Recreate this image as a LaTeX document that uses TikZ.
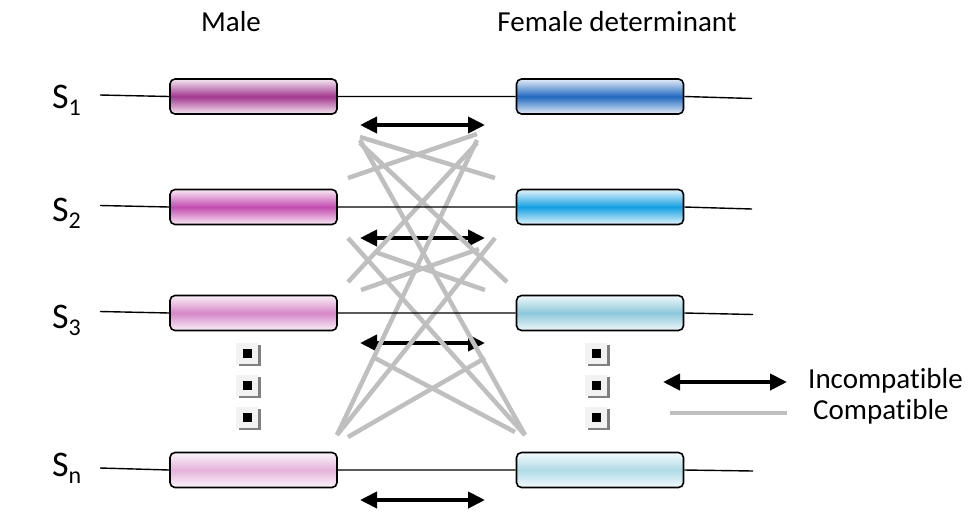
\documentclass[tikz,border=0pt]{standalone}
\usepackage{fontspec}
\setmainfont[Ligatures={NoCommon}]{Carlito}
\usetikzlibrary{arrows.meta,shadows}
\definecolor{m1}{RGB}{163,55,143}
\definecolor{m2}{RGB}{196,75,175}
\definecolor{m3}{RGB}{214,135,200}
\definecolor{mn}{RGB}{228,178,218}
\definecolor{f1}{RGB}{32,105,190}
\definecolor{f2}{RGB}{20,160,225}
\definecolor{f3}{RGB}{140,200,218}
\definecolor{fn}{RGB}{175,218,230}
\definecolor{compat}{RGB}{191,191,191}
\begin{document}
\begin{tikzpicture}[x=1pt,y=-1pt,
  gene/.style={draw=black, line width=1.6pt, rounded corners=5pt,
    minimum width=167pt, minimum height=35pt, inner sep=0pt,
    top color=#1!12!white, bottom color=#1!12!white, middle color=#1},
  rowline/.style={line width=1.4pt, black},
  incompat/.style={line width=4pt, black, {Triangle[length=17pt,width=16pt]}-{Triangle[length=17pt,width=16pt]}},
  compatline/.style={line width=4.5pt, compat},
  dotbox/.style={fill=gray!10, minimum width=22pt, minimum height=21pt, inner sep=0pt,
    drop shadow={shadow xshift=2.5pt, shadow yshift=-2.5pt, fill=gray, opacity=1},
    path picture={\fill[black] ([xshift=-4.5pt,yshift=-4.5pt]path picture bounding box.center) rectangle ([xshift=4.5pt,yshift=4.5pt]path picture bounding box.center);}},
  lbl/.style={font=\fontsize{29}{32}\selectfont, inner sep=0pt},
  slbl/.style={font=\fontsize{36}{40}\selectfont, inner sep=0pt, anchor=west}
]
\path[use as bounding box] (0,0) rectangle (969,512);

% titles
\node[lbl] (tmale) at (231,22) {Male};
\node[lbl] (tfemale) at (617,22) {Female determinant};

% S labels
\node[slbl] (s1) at (52,100) {S\raisebox{-7pt}{\fontsize{24}{24}\selectfont 1}};
\node[slbl] (s2) at (52,213) {S\raisebox{-7pt}{\fontsize{24}{24}\selectfont 2}};
\node[slbl] (s3) at (52,320) {S\raisebox{-7pt}{\fontsize{24}{24}\selectfont 3}};
\node[slbl] (sn) at (52,468) {S\raisebox{-7pt}{\fontsize{24}{24}\selectfont n}};

% incompatible arrows
\coordinate (a1l) at (360,125); \coordinate (a1r) at (485,125);
\coordinate (a2l) at (360,238); \coordinate (a2r) at (485,238);
\coordinate (a3l) at (360,343); \coordinate (a3r) at (485,343);
\coordinate (anl) at (360,500); \coordinate (anr) at (485,500);
\draw[incompat] (a1l) -- (a1r);
\draw[incompat] (a2l) -- (a2r);
\draw[incompat] (a3l) -- (a3r);
\draw[incompat] (anl) -- (anr);

% compatible lines
\coordinate (g1a) at (360,137); \coordinate (g1b) at (495,178);
\coordinate (g2a) at (477,134); \coordinate (g2b) at (348,178);
\coordinate (g3a) at (360,143); \coordinate (g3b) at (507,282);
\coordinate (g4a) at (477,143); \coordinate (g4b) at (348,282);
\coordinate (g5a) at (360,140); \coordinate (br) at (525,435);
\coordinate (g6a) at (477,140); \coordinate (bl) at (337,435);
\coordinate (g7a) at (348,238);
\coordinate (g8a) at (495,238);
\coordinate (g9a) at (375,252); \coordinate (g9b) at (485,290);
\coordinate (g10a) at (479,249); \coordinate (g10b) at (361,290);
\coordinate (g11a) at (373,357); \coordinate (g11b) at (515,432);
\coordinate (g12a) at (485,358); \coordinate (g12b) at (348,437);
\draw[compatline] (g1a) -- (g1b);
\draw[compatline] (g2a) -- (g2b);
\draw[compatline] (g3a) -- (g3b);
\draw[compatline] (g4a) -- (g4b);
\draw[compatline] (g5a) -- (br);
\draw[compatline] (g6a) -- (bl);
\draw[compatline] (g7a) -- (br);
\draw[compatline] (g8a) -- (bl);
\draw[compatline] (g9a) -- (g9b);
\draw[compatline] (g10a) -- (g10b);
\draw[compatline] (g11a) -- (g11b);
\draw[compatline] (g12a) -- (g12b);

% rows
\coordinate (L1) at (100,95);    \coordinate (R1) at (752,98.5);
\coordinate (L2) at (100,205.5); \coordinate (R2) at (752,209);
\coordinate (L3) at (100,311.5); \coordinate (R3) at (753,314.5);
\coordinate (Ln) at (100,468);   \coordinate (Rn) at (753,471);

\node[gene=m1] (M1) at (253.5,96.5) {};
\node[gene=f1] (F1) at (600,96.5) {};
\node[gene=m2] (M2) at (253.5,207) {};
\node[gene=f2] (F2) at (600,207) {};
\node[gene=m3] (M3) at (253.5,313) {};
\node[gene=f3] (F3) at (600,313) {};
\node[gene=mn] (Mn) at (253.5,470) {};
\node[gene=fn] (Fn) at (600,470) {};

\draw[rowline] (L1) -- (M1.west) (M1.east) -- (F1.west) (F1.east) -- (R1);
\draw[rowline] (L2) -- (M2.west) (M2.east) -- (F2.west) (F2.east) -- (R2);
\draw[rowline] (L3) -- (M3.west) (M3.east) -- (F3.west) (F3.east) -- (R3);
\draw[rowline] (Ln) -- (Mn.west) (Mn.east) -- (Fn.west) (Fn.east) -- (Rn);

% ellipsis icons
\node[dotbox] (dm1) at (247,353) {};
\node[dotbox] (dm2) at (247,385) {};
\node[dotbox] (dm3) at (247,417) {};
\node[dotbox] (df1) at (596,353) {};
\node[dotbox] (df2) at (596,385) {};
\node[dotbox] (df3) at (596,417) {};

% legend
\coordinate (li1) at (663,382); \coordinate (li2) at (787,382);
\coordinate (lc1) at (670,413); \coordinate (lc2) at (787,413);
\draw[incompat] (li1) -- (li2);
\draw[compatline] (lc1) -- (lc2);
\node[lbl, anchor=west] (tinc) at (808,381) {Incompatible};
\node[lbl, anchor=west] (tcom) at (813,412) {Compatible};
\end{tikzpicture}
\end{document}
